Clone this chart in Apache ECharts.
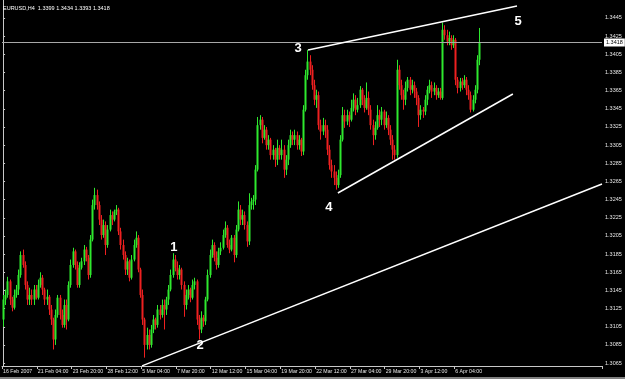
<!DOCTYPE html>
<html><head><meta charset="utf-8">
<script src="https://cdn.jsdelivr.net/npm/echarts@6/dist/echarts.min.js"></script>
<style>html,body{margin:0;padding:0;background:#000;}#c{width:625px;height:379px;}</style>
</head><body><div id="c"></div><script>
const symbolTitle = 'EURUSD,H4  1.3399 1.3434 1.3393 1.3418';
const timeLabels = ['16 Feb 2007','21 Feb 04:00','23 Feb 20:00','28 Feb 12:00','5 Mar 04:00','7 Mar 20:00','12 Mar 12:00','15 Mar 04:00','19 Mar 20:00','22 Mar 12:00','27 Mar 04:00','29 Mar 20:00','3 Apr 12:00','6 Apr 04:00'];
const priceTicks = ['1.3065','1.3085','1.3105','1.3125','1.3145','1.3165','1.3185','1.3205','1.3225','1.3245','1.3265','1.3285','1.3305','1.3325','1.3345','1.3365','1.3385','1.3405','1.3425','1.3445'];
const opens = [
1.3113,1.3135,1.3140,1.3155,1.3135,1.3126,1.3140,1.3146,1.3162,1.3184,
1.3173,1.3151,1.3135,1.3140,1.3135,1.3146,1.3137,1.3151,1.3159,1.3146,
1.3135,1.3138,1.3124,1.3113,1.3091,1.3118,1.3137,1.3118,1.3107,1.3129,
1.3113,1.3151,1.3173,1.3188,1.3173,1.3151,1.3170,1.3177,1.3190,1.3181,
1.3162,1.3201,1.3239,1.3250,1.3239,1.3223,1.3206,1.3217,1.3195,1.3212,
1.3228,1.3223,1.3232,1.3234,1.3210,1.3195,1.3184,1.3168,1.3177,1.3159,
1.3179,1.3195,1.3203,1.3168,1.3140,1.3113,1.3085,1.3096,1.3085,1.3102,
1.3113,1.3107,1.3124,1.3118,1.3129,1.3124,1.3135,1.3146,1.3162,1.3179,
1.3170,1.3162,1.3168,1.3151,1.3129,1.3140,1.3146,1.3137,1.3151,1.3155,
1.3113,1.3102,1.3115,1.3111,1.3135,1.3162,1.3184,1.3195,1.3181,1.3173,
1.3188,1.3192,1.3206,1.3214,1.3195,1.3190,1.3203,1.3184,1.3212,1.3234,
1.3223,1.3228,1.3217,1.3199,1.3239,1.3243,1.3245,1.3278,1.3327,1.3333,
1.3313,1.3322,1.3305,1.3311,1.3294,1.3300,1.3289,1.3302,1.3294,1.3300,
1.3278,1.3289,1.3305,1.3316,1.3311,1.3316,1.3305,1.3311,1.3298,1.3344,
1.3382,1.3397,1.3388,1.3371,1.3355,1.3360,1.3327,1.3320,1.3327,1.3322,
1.3300,1.3283,1.3276,1.3269,1.3261,1.3272,1.3311,1.3338,1.3331,1.3338,
1.3333,1.3346,1.3355,1.3344,1.3349,1.3366,1.3355,1.3346,1.3357,1.3344,
1.3327,1.3316,1.3324,1.3338,1.3333,1.3342,1.3327,1.3335,1.3322,1.3311,
1.3300,1.3294,1.3388,1.3371,1.3360,1.3355,1.3368,1.3377,1.3366,1.3371,
1.3364,1.3357,1.3338,1.3344,1.3342,1.3355,1.3366,1.3371,1.3364,1.3368,
1.3360,1.3364,1.3357,1.3432,1.3426,1.3419,1.3423,1.3415,1.3421,1.3377,
1.3368,1.3375,1.3371,1.3377,1.3366,1.3360,1.3344,1.3355,1.3366,1.3399];
const closes = [
1.3135,1.3140,1.3155,1.3135,1.3126,1.3140,1.3146,1.3162,1.3184,1.3173,
1.3151,1.3135,1.3140,1.3135,1.3146,1.3137,1.3151,1.3159,1.3146,1.3135,
1.3138,1.3124,1.3113,1.3091,1.3118,1.3137,1.3118,1.3107,1.3129,1.3113,
1.3151,1.3173,1.3188,1.3173,1.3151,1.3170,1.3177,1.3190,1.3181,1.3162,
1.3201,1.3239,1.3250,1.3239,1.3223,1.3206,1.3217,1.3195,1.3212,1.3228,
1.3223,1.3232,1.3234,1.3210,1.3195,1.3184,1.3168,1.3177,1.3159,1.3179,
1.3195,1.3203,1.3168,1.3140,1.3113,1.3085,1.3096,1.3085,1.3102,1.3113,
1.3107,1.3124,1.3118,1.3129,1.3124,1.3135,1.3146,1.3162,1.3179,1.3170,
1.3162,1.3168,1.3151,1.3129,1.3140,1.3146,1.3137,1.3151,1.3155,1.3113,
1.3102,1.3115,1.3111,1.3135,1.3162,1.3184,1.3195,1.3181,1.3173,1.3188,
1.3192,1.3206,1.3214,1.3195,1.3190,1.3203,1.3184,1.3212,1.3234,1.3223,
1.3228,1.3217,1.3199,1.3239,1.3243,1.3245,1.3278,1.3327,1.3333,1.3313,
1.3322,1.3305,1.3311,1.3294,1.3300,1.3289,1.3302,1.3294,1.3300,1.3278,
1.3289,1.3305,1.3316,1.3311,1.3316,1.3305,1.3311,1.3298,1.3344,1.3382,
1.3397,1.3388,1.3371,1.3355,1.3360,1.3327,1.3320,1.3327,1.3322,1.3300,
1.3283,1.3276,1.3269,1.3261,1.3272,1.3311,1.3338,1.3331,1.3338,1.3333,
1.3346,1.3355,1.3344,1.3349,1.3366,1.3355,1.3346,1.3357,1.3344,1.3327,
1.3316,1.3324,1.3338,1.3333,1.3342,1.3327,1.3335,1.3322,1.3311,1.3300,
1.3294,1.3388,1.3371,1.3360,1.3355,1.3368,1.3377,1.3366,1.3371,1.3364,
1.3357,1.3338,1.3344,1.3342,1.3355,1.3366,1.3371,1.3364,1.3368,1.3360,
1.3364,1.3357,1.3432,1.3426,1.3419,1.3423,1.3415,1.3421,1.3377,1.3368,
1.3375,1.3371,1.3377,1.3366,1.3360,1.3344,1.3355,1.3366,1.3399,1.3418];
const lows = [
1.3105,1.3129,1.3137,1.3129,1.3122,1.3124,1.3137,1.3140,1.3159,1.3170,
1.3146,1.3129,1.3129,1.3129,1.3129,1.3135,1.3135,1.3148,1.3140,1.3129,
1.3129,1.3118,1.3107,1.3080,1.3085,1.3115,1.3113,1.3104,1.3104,1.3102,
1.3111,1.3148,1.3170,1.3168,1.3148,1.3148,1.3168,1.3173,1.3177,1.3157,
1.3159,1.3199,1.3234,1.3234,1.3217,1.3201,1.3203,1.3184,1.3192,1.3210,
1.3217,1.3221,1.3228,1.3206,1.3190,1.3179,1.3162,1.3162,1.3155,1.3157,
1.3177,1.3192,1.3165,1.3137,1.3107,1.3071,1.3080,1.3080,1.3082,1.3098,
1.3102,1.3104,1.3113,1.3115,1.3102,1.3118,1.3129,1.3144,1.3159,1.3166,
1.3157,1.3157,1.3146,1.3116,1.3124,1.3135,1.3132,1.3135,1.3146,1.3107,
1.3091,1.3098,1.3105,1.3107,1.3133,1.3159,1.3181,1.3177,1.3168,1.3170,
1.3184,1.3190,1.3203,1.3192,1.3186,1.3188,1.3176,1.3181,1.3210,1.3217,
1.3217,1.3212,1.3193,1.3195,1.3234,1.3234,1.3239,1.3276,1.3322,1.3307,
1.3311,1.3300,1.3300,1.3289,1.3289,1.3281,1.3283,1.3289,1.3289,1.3269,
1.3272,1.3283,1.3302,1.3305,1.3305,1.3300,1.3300,1.3293,1.3294,1.3342,
1.3377,1.3382,1.3366,1.3349,1.3346,1.3322,1.3311,1.3316,1.3313,1.3294,
1.3278,1.3269,1.3261,1.3256,1.3258,1.3269,1.3309,1.3324,1.3327,1.3325,
1.3331,1.3342,1.3338,1.3341,1.3346,1.3349,1.3341,1.3344,1.3338,1.3322,
1.3305,1.3311,1.3322,1.3325,1.3327,1.3322,1.3324,1.3316,1.3305,1.3289,
1.3289,1.3291,1.3366,1.3355,1.3344,1.3349,1.3364,1.3360,1.3362,1.3357,
1.3349,1.3325,1.3333,1.3335,1.3338,1.3349,1.3362,1.3357,1.3360,1.3355,
1.3357,1.3355,1.3355,1.3421,1.3415,1.3415,1.3410,1.3412,1.3371,1.3362,
1.3364,1.3366,1.3368,1.3360,1.3355,1.3341,1.3342,1.3351,1.3362,1.3393];
const highs = [
1.3140,1.3146,1.3160,1.3157,1.3138,1.3146,1.3151,1.3168,1.3188,1.3190,
1.3177,1.3155,1.3148,1.3146,1.3151,1.3151,1.3157,1.3165,1.3162,1.3148,
1.3146,1.3140,1.3129,1.3115,1.3124,1.3140,1.3140,1.3124,1.3135,1.3135,
1.3155,1.3179,1.3192,1.3190,1.3177,1.3176,1.3181,1.3195,1.3193,1.3184,
1.3206,1.3245,1.3258,1.3256,1.3243,1.3228,1.3223,1.3221,1.3217,1.3234,
1.3232,1.3234,1.3239,1.3236,1.3214,1.3201,1.3188,1.3181,1.3179,1.3184,
1.3201,1.3210,1.3206,1.3170,1.3146,1.3115,1.3104,1.3102,1.3107,1.3118,
1.3115,1.3129,1.3129,1.3135,1.3135,1.3138,1.3151,1.3168,1.3186,1.3184,
1.3177,1.3173,1.3170,1.3155,1.3146,1.3151,1.3148,1.3157,1.3159,1.3157,
1.3118,1.3122,1.3118,1.3138,1.3168,1.3190,1.3201,1.3198,1.3188,1.3192,
1.3198,1.3212,1.3221,1.3217,1.3201,1.3206,1.3206,1.3217,1.3243,1.3239,
1.3234,1.3232,1.3221,1.3252,1.3247,1.3250,1.3283,1.3336,1.3338,1.3336,
1.3327,1.3325,1.3316,1.3313,1.3305,1.3302,1.3311,1.3305,1.3311,1.3305,
1.3294,1.3311,1.3322,1.3320,1.3322,1.3320,1.3316,1.3313,1.3349,1.3388,
1.3410,1.3404,1.3393,1.3377,1.3366,1.3364,1.3333,1.3335,1.3333,1.3327,
1.3305,1.3289,1.3283,1.3276,1.3278,1.3316,1.3347,1.3344,1.3344,1.3342,
1.3355,1.3362,1.3360,1.3357,1.3370,1.3368,1.3360,1.3374,1.3364,1.3349,
1.3333,1.3331,1.3349,1.3344,1.3347,1.3344,1.3342,1.3338,1.3327,1.3316,
1.3305,1.3399,1.3393,1.3377,1.3366,1.3375,1.3380,1.3380,1.3377,1.3375,
1.3368,1.3360,1.3349,1.3347,1.3360,1.3370,1.3377,1.3375,1.3374,1.3371,
1.3368,1.3368,1.3440,1.3437,1.3432,1.3430,1.3426,1.3426,1.3423,1.3380,
1.3379,1.3379,1.3382,1.3380,1.3371,1.3364,1.3360,1.3371,1.3404,1.3434];
const bidPrice = 1.3418;
// trendlines: [bar index, price]
const trendLong = [[63.9, 1.30619], [275.5, 1.32622]];
const wedgeUpper = [[140.3, 1.34098], [236.4, 1.34582]];
const wedgeLower = [[154.0, 1.32523], [234.5, 1.33613]];
const waveLabels = [[78.6, 1.3192, '1'], [90.6, 1.3084, '2'], [135.7, 1.3411, '3'], [149.9, 1.3236, '4'], [236.9, 1.3441, '5']];
const slotCount = 276;
const barsPerLabel = 16;

const font = 'Liberation Sans';
const axisColor = '#c8c8c8';
const textColor = '#e6e6e6';
const upColor = '#2ee82e';
const downColor = '#ee2020';
const isLabelSlot = (i) => i % barsPerLabel === 0 && (i / barsPerLabel) < timeLabels.length;
const categories = Array.from({length: slotCount}, (_, i) => isLabelSlot(i) ? timeLabels[i / barsPerLabel] : '');
const barData = opens.map((o, i) => [i, o, closes[i], lows[i], highs[i]]);
const tickNums = priceTicks.map(Number);
const lineStyleW = {color: '#ffffff', width: 1.5};

function renderBar(params, api) {
  const i = api.value(0), o = api.value(1), c = api.value(2), l = api.value(3), h = api.value(4);
  const pH = api.coord([i, h]);
  const pL = api.coord([i, l]);
  const pO = api.coord([i, o]);
  const pC = api.coord([i, c]);
  const x = Math.round(pH[0]);
  const color = c >= o ? upColor : downColor;
  const top = Math.min(pO[1], pC[1]);
  const bodyH = Math.max(Math.abs(pO[1] - pC[1]), 1);
  return {
    type: 'group',
    children: [
      {type: 'line', shape: {x1: x + 0.5, y1: pH[1], x2: x + 0.5, y2: pL[1]}, style: {stroke: color, lineWidth: 1}},
      {type: 'rect', shape: {x: x - 0.5, y: top, width: 2, height: bodyH}, style: {fill: color}}
    ]
  };
}

const chart = echarts.init(document.getElementById('c'), null, {renderer: 'canvas'});
chart.setOption({
  animation: false,
  backgroundColor: '#000000',
  title: {text: symbolTitle, left: 3, top: 5, padding: 0, textStyle: {color: '#ffffff', fontSize: 5.5, fontWeight: 'normal', fontFamily: font}},
  grid: {left: 2, right: 23, top: 0, bottom: 13, containLabel: false},
  xAxis: [{
    type: 'category', data: categories, boundaryGap: true,
    axisLine: {show: true, lineStyle: {color: axisColor, width: 1}},
    axisTick: {show: true, interval: isLabelSlot, length: 3, lineStyle: {color: axisColor}},
    axisLabel: {interval: isLabelSlot, align: 'left', color: textColor, fontSize: 5.2, margin: 3, fontFamily: font},
    splitLine: {show: false}
  }, {
    type: 'value', min: -0.5, max: slotCount - 0.5, show: false
  }],
  yAxis: {
    type: 'value', position: 'right', min: 1.30618, max: 1.34648,
    axisLine: {show: true, lineStyle: {color: axisColor, width: 1}},
    axisTick: {show: true, length: 2, customValues: tickNums, lineStyle: {color: axisColor}},
    axisLabel: {customValues: tickNums, formatter: (v) => v.toFixed(4), color: textColor, fontSize: 5.5, margin: 3, fontFamily: font},
    splitLine: {show: false}
  },
  series: [{
    type: 'line', xAxisIndex: 1, yAxisIndex: 0, data: [[-0.5, bidPrice], [slotCount - 0.5, bidPrice]],
    showSymbol: false, symbol: 'none', silent: true, lineStyle: {color: '#a8a8a8', width: 1},
    endLabel: {show: true, formatter: bidPrice.toFixed(4), distance: 2, backgroundColor: '#ffffff', color: '#000000', fontSize: 5.5, padding: [1, 2], fontFamily: font}
  }, {
    type: 'custom', xAxisIndex: 1, yAxisIndex: 0, data: barData, renderItem: renderBar, silent: true,
    encode: {x: 0, y: [1, 2, 3, 4]}, clip: true
  }, {
    type: 'line', xAxisIndex: 1, yAxisIndex: 0, data: trendLong, showSymbol: false, symbol: 'none', lineStyle: lineStyleW, silent: true, clip: true
  }, {
    type: 'line', xAxisIndex: 1, yAxisIndex: 0, data: wedgeUpper, showSymbol: false, symbol: 'none', lineStyle: lineStyleW, silent: true, clip: true
  }, {
    type: 'line', xAxisIndex: 1, yAxisIndex: 0, data: wedgeLower, showSymbol: false, symbol: 'none', lineStyle: lineStyleW, silent: true, clip: true
  }, {
    type: 'scatter', xAxisIndex: 1, yAxisIndex: 0, data: waveLabels, symbolSize: 0, silent: true,
    itemStyle: {opacity: 1},
    label: {show: true, position: 'inside', formatter: (p) => p.data[2], color: '#ffffff', opacity: 1, fontSize: 13, fontWeight: 'bold', fontFamily: font}
  }],
  graphic: [{type: 'rect', shape: {x: 0, y: 377, width: 625, height: 2}, style: {fill: '#808080'}, silent: true}]
});
</script></body></html>
